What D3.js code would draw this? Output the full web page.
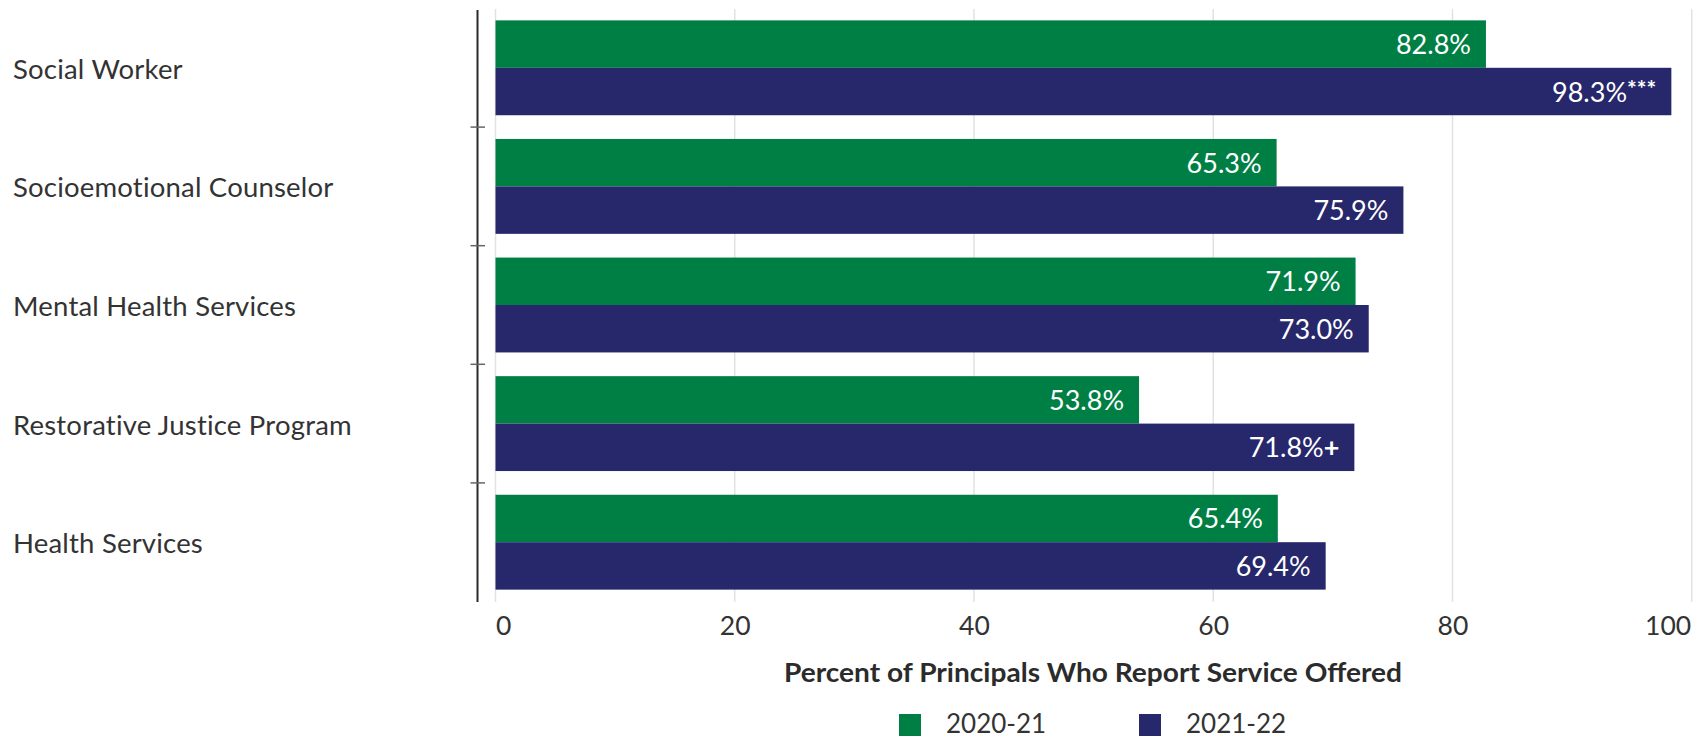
<!DOCTYPE html>
<html>
<head>
<meta charset="utf-8">
<script src="https://cdn.jsdelivr.net/npm/d3@7"></script>
<style>
  html, body { margin: 0; padding: 0; background: #fff; }
  svg { display: block; font-family: Lato, "Open Sans", sans-serif; }
</style>
</head>
<body>
<svg id="chart" width="1702" height="738"></svg>
<script>
// Services offered by schools, share of principals reporting each
const categories = [
  "Social Worker",
  "Socioemotional Counselor",
  "Mental Health Services",
  "Restorative Justice Program",
  "Health Services"
];
const seriesNames = ["2020-21", "2021-22"];
const values2021 = [82.8, 65.3, 71.9, 53.8, 65.4];
const values2122 = [98.3, 75.9, 73.0, 71.8, 69.4];
// significance markers appended to the 2021-22 labels
const marks2122 = ["***", "", "", "+", ""];
const xTicks = [0, 20, 40, 60, 80, 100];
const axisTitle = "Percent of Principals Who Report Service Offered";

const colors = { "2020-21": "#007F45", "2021-22": "#27276B" };

const svg = d3.select("#chart");

const x = d3.scaleLinear().domain([0, 100]).range([495.5, 1691.7]);
const y = d3.scaleBand().domain(categories).range([8.5, 601.5])
  .paddingInner(0.2).paddingOuter(0.1);
const ySub = d3.scaleBand().domain(seriesNames).range([0, y.bandwidth()]);

const rows = categories.map((c, i) => ({
  category: c,
  items: [
    { series: "2020-21", value: values2021[i], mark: "" },
    { series: "2021-22", value: values2122[i], mark: marks2122[i] }
  ]
}));

// vertical gridlines
svg.append("g").selectAll("line").data(xTicks).join("line")
  .attr("x1", d => x(d)).attr("x2", d => x(d))
  .attr("y1", 9).attr("y2", 602)
  .attr("stroke", "#e2e2e2").attr("stroke-width", 1.5);

// bars
const groups = svg.append("g").selectAll("g").data(rows).join("g")
  .attr("transform", d => `translate(0,${y(d.category)})`);

groups.selectAll("rect").data(d => d.items).join("rect")
  .attr("x", x(0))
  .attr("y", d => ySub(d.series))
  .attr("width", d => x(d.value) - x(0))
  .attr("height", ySub.bandwidth())
  .attr("fill", d => colors[d.series]);

// value labels inside the bar ends
const labels = groups.selectAll("text").data(d => d.items).join("text")
  .attr("x", d => x(d.value) - 15)
  .attr("y", d => ySub(d.series) + ySub.bandwidth() / 2)
  .attr("dy", "0.37em")
  .attr("text-anchor", "end")
  .attr("fill", "#fff")
  .attr("font-size", 27);
labels.append("tspan").text(d => d.value.toFixed(1) + "%");
labels.filter(d => d.mark === "***").append("tspan")
  .attr("font-size", 23).attr("dy", "-0.2em").attr("font-weight", 700).text(d => d.mark);
labels.filter(d => d.mark === "+").append("tspan")
  .attr("font-weight", 700).text(d => d.mark);

// category labels
svg.append("g").selectAll("text").data(categories).join("text")
  .attr("x", 13)
  .attr("y", d => y(d) + y.bandwidth() / 2)
  .attr("dy", "0.4em")
  .attr("fill", "#333")
  .attr("font-size", 27.5)
  .attr("letter-spacing", 0.2)
  .text(d => d);

// left axis line with ticks between categories
svg.append("line")
  .attr("x1", 477.5).attr("x2", 477.5).attr("y1", 10).attr("y2", 602)
  .attr("stroke", "#2a2a2a").attr("stroke-width", 2);
const step = y.step();
svg.append("g").selectAll("line").data(categories.slice(1)).join("line")
  .attr("x1", 470.5).attr("x2", 485)
  .attr("y1", d => y(d) - step * y.paddingInner() / 2)
  .attr("y2", d => y(d) - step * y.paddingInner() / 2)
  .attr("stroke", "#666").attr("stroke-width", 1.5);

// bottom tick labels
const xAxis = svg.append("g")
  .attr("transform", "translate(0,610)")
  .call(d3.axisBottom(x).tickValues(xTicks).tickSize(0).tickPadding(0));
xAxis.select(".domain").remove();
xAxis.selectAll("text")
  .attr("font-family", "Lato, 'Open Sans', sans-serif")
  .attr("font-size", 26.5)
  .attr("fill", "#333")
  .attr("y", 15.5).attr("dy", "0.36em")
  .attr("text-anchor", (d, i) => i === 0 ? "start" : (i === xTicks.length - 1 ? "end" : "middle"))
  .attr("dx", (d, i) => i === xTicks.length - 1 ? -1 : 0);

// axis title
svg.append("text")
  .attr("x", 1093).attr("y", 673).attr("dy", "0.36em")
  .attr("text-anchor", "middle")
  .attr("font-size", 26).attr("font-weight", 700)
  .attr("fill", "#2b2b2b")
  .attr("textLength", 618).attr("lengthAdjust", "spacingAndGlyphs")
  .text(axisTitle);

// legend
const legendX = [899, 1139];
const legend = svg.append("g").selectAll("g").data(seriesNames).join("g")
  .attr("transform", (d, i) => `translate(${legendX[i]},714)`);
legend.append("rect").attr("width", 22).attr("height", 22)
  .attr("fill", d => colors[d]);
legend.append("text")
  .attr("x", 47).attr("y", 10).attr("dy", "0.36em")
  .attr("font-size", 26).attr("fill", "#333")
  .text(d => d);
</script>
</body>
</html>
